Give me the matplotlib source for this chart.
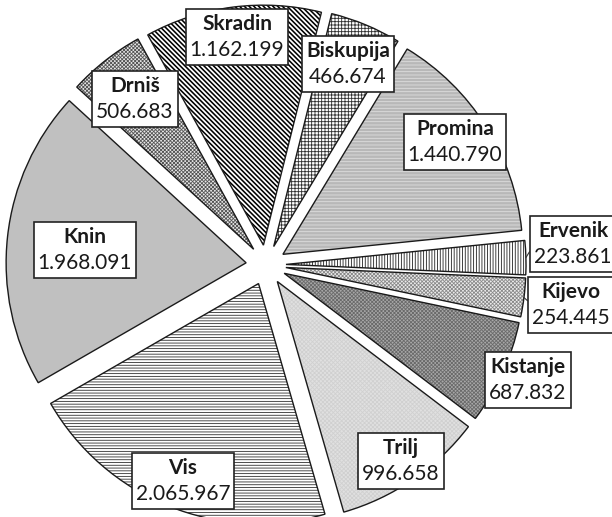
import matplotlib
matplotlib.use('Agg')
import numpy as np
import matplotlib.pyplot as plt
from matplotlib.patches import Wedge
from matplotlib.offsetbox import TextArea, VPacker, AnnotationBbox

plt.rcParams['font.family'] = ['Lato', 'DejaVu Sans']
plt.rcParams['hatch.linewidth'] = 0.6

# counter-clockwise order, starting just below 3 o'clock
municipalities = ['Ervenik', 'Promina', 'Biskupija', 'Skradin', 'Drniš',
                  'Knin', 'Vis', 'Trilj', 'Kistanje', 'Kijevo']
amounts = [223861, 1440790, 466674, 1162199, 506683,
           1968091, 2065967, 996658, 687832, 254445]

# (face colour, hatch, hatch colour) per slice
styles = [
    ('white', '|' * 6, '#202020'),
    ('#b8b8b8', '-' * 5, '#dedede'),
    ('white', '+' * 5, '#303030'),
    ('white', '\\' * 7, 'black'),
    ('#e8e8e8', 'x' * 9, '#555555'),
    ('#c0c0c0', '', '#c0c0c0'),
    ('white', '-' * 6, '#303030'),
    ('#e0e0e0', 'x' * 8, '#d0d0d0'),
    ('#a8a8a8', 'x' * 9, '#6a6a6a'),
    ('#ececec', 'x' * 9, '#8a8a8a'),
]

# label box centres in pixel coords (from top-left), leader flag
label_pos = [(573, 244), (455, 142), (348, 64), (237, 37), (135, 99),
             (85, 250), (183, 481), (401, 461), (528, 380), (571, 305)]
leader = [True, False, False, False, False, False, False, False, False, True]

W, H = 612, 517
fig = plt.figure(figsize=(W / 100, H / 100), dpi=100)
ax = fig.add_axes([0, 0, 1, 1])

cx, cy, r, gap = 266, H - 265, 240, 20
wedges, _ = ax.pie(amounts, center=(cx, cy), radius=r,
                   explode=[gap] * len(amounts), startangle=-2.5,
                   counterclock=True, wedgeprops=dict(linewidth=0))

for w, (fc, hatch, hc) in zip(wedges, styles):
    w.set_facecolor(fc)
    w.set_edgecolor(hc)
    w.set_linewidth(0)
    if hatch:
        w.set_hatch(hatch)
    if hatch.startswith('\\') and hasattr(w, 'set_hatch_linewidth'):
        w.set_hatch_linewidth(1.15)
    ax.add_patch(Wedge(w.center, w.r, w.theta1, w.theta2, fill=False,
                       edgecolor='#1a1a1a', linewidth=1.0))

for w, name, val, (px, py), lead in zip(wedges, municipalities, amounts,
                                         label_pos, leader):
    num = f"{val:,}".replace(',', '.')
    box = VPacker(children=[
        TextArea(name, textprops=dict(fontsize=15, fontweight='bold', color='#1a1a1a')),
        TextArea(num, textprops=dict(fontsize=15, color='#1a1a1a')),
    ], align='center', pad=0, sep=5)
    if lead:
        mid = np.deg2rad((w.theta1 + w.theta2) / 2)
        xy = (w.center[0] + w.r * np.cos(mid), w.center[1] + w.r * np.sin(mid))
        ab = AnnotationBbox(box, xy, xybox=(px, H - py), xycoords='data',
                            boxcoords='data', box_alignment=(0.5, 0.5), pad=0.3,
                            bboxprops=dict(edgecolor='#222222', linewidth=1.2),
                            arrowprops=dict(arrowstyle='-', color='#333333',
                                            linewidth=0.8, shrinkA=0, shrinkB=0,
                                            relpos=(0, 0.5)))
    else:
        ab = AnnotationBbox(box, (px, H - py), xycoords='data',
                            box_alignment=(0.5, 0.5), pad=0.3,
                            bboxprops=dict(edgecolor='#222222', linewidth=1.2))
    ax.add_artist(ab)

ax.set_xlim(0, W)
ax.set_ylim(0, H)
ax.axis('off')

fig.savefig('out.png', dpi=100, facecolor='white')
